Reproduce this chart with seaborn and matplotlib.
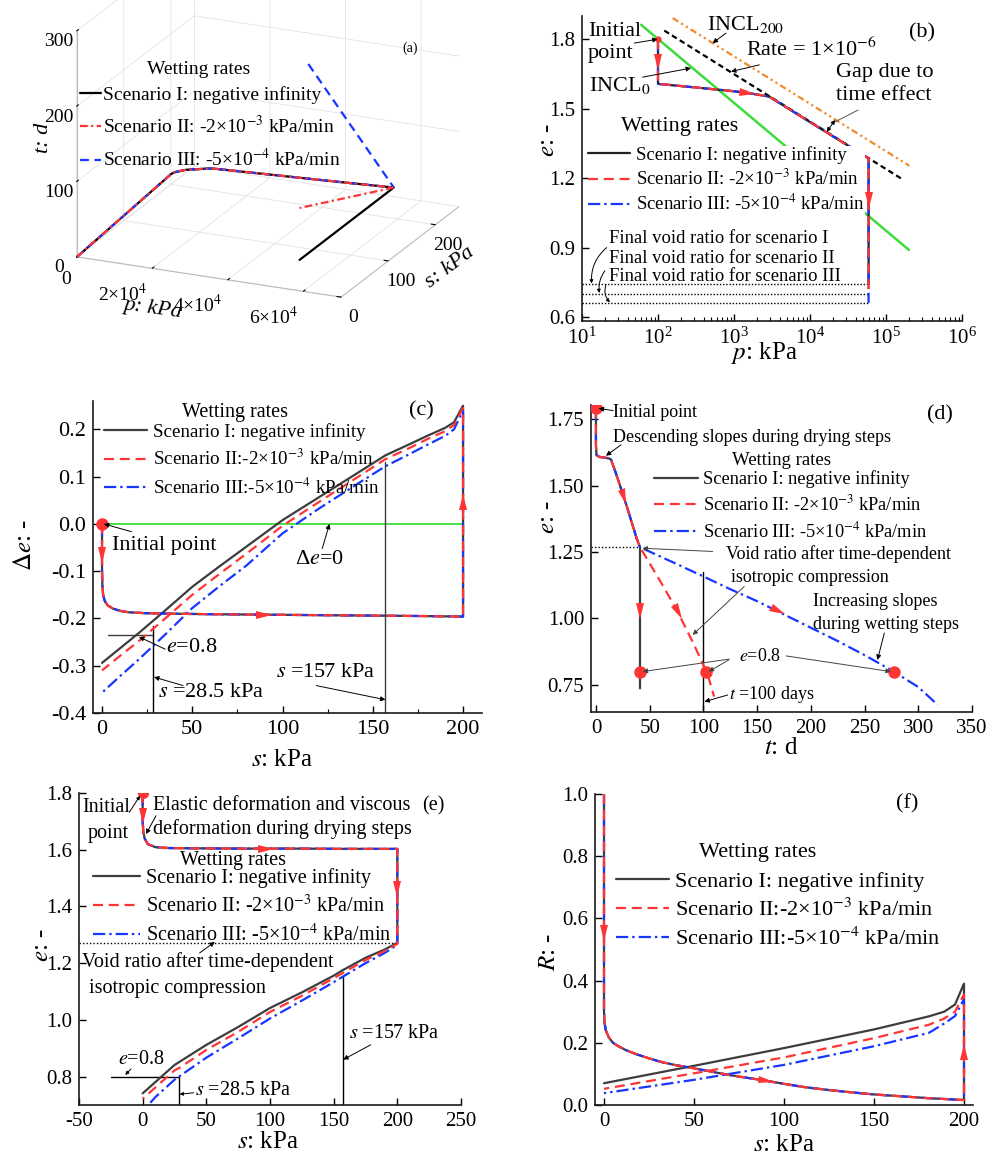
import numpy as np
import matplotlib
matplotlib.use("Agg")
import matplotlib.pyplot as plt
import seaborn as sns
from matplotlib.lines import Line2D
from matplotlib.markers import MarkerStyle
from matplotlib.transforms import Affine2D
from matplotlib.ticker import (LogLocator, LogFormatterMathtext, MultipleLocator,
                               FormatStrFormatter, NullFormatter)

sns.set_style("white")
plt.rcParams["font.family"] = ["Liberation Serif", "DejaVu Serif"]
plt.rcParams["mathtext.fontset"] = "stix"
plt.rcParams["axes.unicode_minus"] = False
for k in ("text.color", "axes.labelcolor", "xtick.color", "ytick.color", "axes.edgecolor"):
    plt.rcParams[k] = "black"

# ---------------------------------------------------------------- data
scen_labels = ["Scenario I: negative infinity",
               "Scenario II: -2×10$^{-3}$ kPa/min",
               "Scenario III: -5×10$^{-4}$ kPa/min"]
scen_labels_tight = ["Scenario I: negative infinity",
                     "Scenario II:-2×10$^{-3}$ kPa/min",
                     "Scenario III:-5×10$^{-4}$ kPa/min"]

# (a) stress path in p-s-t space
a_dry_p = [100, 100]
a_dry_s = [0, 200]
a_dry_t = [0, 14]
a_comp_p = [100, 1000, 4000, 10870, 20000, 30000, 40000, 50000, 59000]
a_comp_s = [200, 200, 200, 200, 200, 200, 200, 200, 200]
a_comp_t = [14, 17, 22.5, 29.6, 31.7, 34.0, 36.3, 38.7, 41]
a_wet_p = [59000, 59000]
a_wet_s_I = [200, 0]
a_wet_t_I = [41, 41]
a_wet_s_II = [200, 0]
a_wet_t_II = [41, 110]
a_wet_s_III = [200, 13]
a_wet_t_III = [41, 300]

# (b) e - log p
b_path_p = [100, 100, 300, 1000, 1500, 2900, 10000, 30000, 59000]
b_path_e = [1.800, 1.607, 1.592, 1.575, 1.568, 1.552, 1.442, 1.345, 1.285]
b_final_e = [0.741, 0.701, 0.661]
b_incl0_p = [60, 2.0e5]
b_incl0_e = [1.862, 0.890]
b_rate_p = [121, 1.57e5]
b_rate_e = [1.837, 1.199]
b_incl200_p = [156, 2.03e5]
b_incl200_e = [1.891, 1.253]

# (c) change of void ratio vs suction
c_dry_s = [0, 0, 0.2, 0.6, 1.5, 3, 6, 10, 15, 25, 40, 60, 90, 120, 150, 180, 200]
c_dry_de = [0, -0.100, -0.130, -0.150, -0.163, -0.172, -0.179, -0.184, -0.187,
            -0.189, -0.190, -0.191, -0.192, -0.193, -0.194, -0.195, -0.196]
c_wet_s = [200, 195, 190, 180, 170, 157, 140, 120, 100, 80, 65, 50, 35, 20, 10, 0]
c_wet_I = [0.250, 0.215, 0.203, 0.186, 0.168, 0.145, 0.104, 0.056, 0.008, -0.048,
           -0.090, -0.133, -0.183, -0.232, -0.263, -0.294]
c_wet_II = [0.245, 0.209, 0.196, 0.179, 0.160, 0.137, 0.095, 0.046, -0.004, -0.063,
            -0.106, -0.150, -0.200, -0.249, -0.279, -0.310]
c_wet_III = [0.240, 0.200, 0.186, 0.167, 0.147, 0.122, 0.081, 0.032, -0.020, -0.088,
             -0.132, -0.178, -0.234, -0.288, -0.322, -0.357]

# (d) void ratio vs time
d_path_t = [0, 0, 0.5, 3, 8, 12, 14, 18, 22, 26, 30, 34, 38, 41]
d_path_e = [1.790, 1.650, 1.615, 1.608, 1.605, 1.602, 1.598, 1.553, 1.505, 1.456,
            1.405, 1.352, 1.300, 1.268]
d_wet_t_I = [41, 41]
d_wet_e_I = [1.268, 0.737]
d_wet_t_II = [41, 50, 60, 70, 80, 90, 100, 105, 110]
d_wet_e_II = [1.268, 1.207, 1.139, 1.069, 0.993, 0.912, 0.825, 0.775, 0.706]
d_wet_t_III = [41, 75, 100, 125, 150, 175, 200, 225, 250, 275, 300, 318]
d_wet_e_III = [1.268, 1.205, 1.158, 1.110, 1.065, 1.015, 0.965, 0.915, 0.862, 0.805,
               0.742, 0.675]

# (e) void ratio vs suction
e_dry_s = [0, 0, 0.5, 1.5, 4, 10, 20, 40, 80, 120, 160, 200]
e_dry_e = [1.800, 1.700, 1.665, 1.640, 1.620, 1.609, 1.606, 1.605, 1.604, 1.604,
           1.603, 1.603]
e_wet_s = [200, 190, 175, 157, 150, 125, 100, 75, 50, 28.5, 25, 10, 0]
e_wet_I = [1.272, 1.248, 1.219, 1.175, 1.156, 1.097, 1.042, 0.975, 0.912, 0.851,
           0.841, 0.781, 0.741]
e_wet_II = [1.268, 1.243, 1.211, 1.165, 1.147, 1.085, 1.028, 0.958, 0.894, 0.830,
            0.822, 0.762, 0.722]
e_wet_III = [1.265, 1.236, 1.200, 1.152, 1.133, 1.068, 1.005, 0.935, 0.867, 0.800,
             0.789, 0.728, 0.678]

# (f) R vs suction
f_dry_s = [0, 0, 0.3, 1, 2.8, 5, 8.3, 12, 17.6, 25, 32, 40, 50, 60, 69, 80, 90, 100,
           112, 125, 137, 150, 165, 180, 190, 200]
f_dry_R = [1.000, 0.300, 0.265, 0.240, 0.216, 0.200, 0.188, 0.177, 0.164, 0.150,
           0.138, 0.128, 0.118, 0.107, 0.097, 0.087, 0.078, 0.068, 0.057, 0.048,
           0.041, 0.034, 0.028, 0.022, 0.019, 0.016]
f_wet_s = [200, 199, 195, 189, 180.5, 150, 100, 50, 0]
f_wet_I = [0.390, 0.377, 0.323, 0.300, 0.285, 0.243, 0.183, 0.126, 0.070]
f_wet_II = [0.355, 0.345, 0.300, 0.278, 0.258, 0.215, 0.153, 0.102, 0.052]
f_wet_III = [0.340, 0.330, 0.286, 0.262, 0.232, 0.189, 0.129, 0.081, 0.038]

# ---------------------------------------------------------------- styles
GRAY = "#3d3d3d"
RED = "#ff3535"
BLUE = "#1736ff"
GREEN = "#3ddc3d"
ORANGE = "#f08a2c"
LW = 1.6
LS_I = "-"
LS_II = (0, (4.5, 2.6))
LS_III = (0, (5.5, 1.8, 1.1, 1.8))

W, H = 992, 1155
fig = plt.figure(figsize=(W / 100, H / 100), dpi=100)


def rect(l, t, r, b):
    return [l / W, 1 - b / H, (r - l) / W, (b - t) / H]


def fpt(x, y):
    return (x / W, 1 - y / H)


def draw(ax, x, y, color, ls, lw=LW, z=3):
    sns.lineplot(x=np.asarray(x, float), y=np.asarray(y, float), ax=ax, sort=False,
                 estimator=None, color=color, linestyle=ls, linewidth=lw, zorder=z)


def three(ax, xs, ys, gray=GRAY):
    # scenario I underneath, III then II on top
    draw(ax, xs[0], ys[0], gray, LS_I, z=3)
    draw(ax, xs[2], ys[2], BLUE, LS_III, z=4)
    draw(ax, xs[1], ys[1], RED, LS_II, z=5)


def flow(ax, xs, ys, i, frac=0.0, logx=False, size=9):
    xs = np.asarray(xs, float)
    ys = np.asarray(ys, float)
    if logx:
        lx = np.log10(xs)
        x = 10 ** (lx[i] + frac * (lx[i + 1] - lx[i]))
    else:
        x = xs[i] + frac * (xs[i + 1] - xs[i])
    y = ys[i] + frac * (ys[i + 1] - ys[i])
    p0 = ax.transData.transform((xs[i], ys[i]))
    p1 = ax.transData.transform((xs[i + 1], ys[i + 1]))
    ang = np.degrees(np.arctan2(p1[1] - p0[1], p1[0] - p0[0]))
    m = MarkerStyle(">", transform=Affine2D().scale(1.25, 0.62).rotate_deg(ang))
    ax.plot([x], [y], marker=m, color=RED, ms=size, ls="none", zorder=8,
            markeredgewidth=0)


def pointer(ax, start, end, style="-|>", lw=0.7, ms=7, rad=0.0, color="black"):
    ax.annotate("", xy=end, xytext=start,
                arrowprops=dict(arrowstyle=style, color=color, lw=lw, mutation_scale=ms,
                                shrinkA=0, shrinkB=0,
                                connectionstyle=f"arc3,rad={rad}"), zorder=9)


def legend(ax, labels, x_px, row1_px, fs, spacing, hl_px, pad_px, styles, opaque=False):
    F = fs * 100 / 72
    handles = [Line2D([], [], color=c, ls=ls, lw=LW) for c, ls in styles]
    leg = ax.legend(handles, labels, loc="upper left",
                    bbox_to_anchor=fpt(x_px, row1_px - 0.48 * F),
                    bbox_transform=fig.transFigure, fontsize=fs,
                    handlelength=hl_px / F, handletextpad=pad_px / F,
                    labelspacing=(spacing - 0.96 * F) / F, borderpad=0,
                    borderaxespad=0, frameon=opaque, fancybox=False)
    if opaque:
        leg.get_frame().set_facecolor("white")
        leg.get_frame().set_edgecolor("none")
        leg.get_frame().set_alpha(1)
    return leg


def style_axes(ax, xl, yl, xlab, ylab, fs_tick=15, fs_lab=18):
    for sp in ("top", "right"):
        ax.spines[sp].set_visible(False)
    for sp in ("left", "bottom"):
        ax.spines[sp].set_color("#1a1a1a")
        ax.spines[sp].set_linewidth(1.2)
    ax.tick_params(which="major", direction="in", length=5, width=1.0,
                   labelsize=fs_tick, bottom=True, left=True, top=False, right=False,
                   pad=5)
    ax.tick_params(which="minor", direction="in", length=3, width=0.8, bottom=True,
                   left=False, top=False, right=False)
    ax.set_xlabel(xl, fontsize=fs_lab)
    ax.set_ylabel(yl, fontsize=fs_lab)
    ax.xaxis.set_label_coords(*xlab)
    ax.yaxis.set_label_coords(*ylab)
    ax.xaxis.label.set_va("center")
    ax.yaxis.label.set_va("center")
    ax.set_facecolor("none")
    ax.grid(False)


SC_STYLES = [(GRAY, LS_I), (RED, LS_II), (BLUE, LS_III)]

# ================================================================ (a)
axa = fig.add_axes([0.0313, 0.6922, 0.4647, 0.3991], projection="3d")
axa.patch.set_visible(False)
axa.set_proj_type("ortho")
axa.view_init(elev=20, azim=-66)
axa.set_box_aspect((1, 1, 0.83))
axa.set_xlim(0, 7e4)
axa.set_ylim(0, 250)
axa.set_zlim(0, 300)
common_p = a_dry_p + a_comp_p[1:]
common_s = a_dry_s + a_comp_s[1:]
common_t = a_dry_t + a_comp_t[1:]
A_RED_LS = (0, (3.5, 1.5, 1, 1.5))
A_BLUE_LS = (0, (4, 2.5))
a_series = [
    (common_p + a_wet_p, common_s + a_wet_s_I, common_t + a_wet_t_I, "black", "-"),
    (common_p + a_wet_p, common_s + a_wet_s_III, common_t + a_wet_t_III, BLUE, A_BLUE_LS),
    (common_p + a_wet_p, common_s + a_wet_s_II, common_t + a_wet_t_II, RED, A_RED_LS),
]
for p, s, t, c, ls in a_series:
    axa.plot(p, s, t, color=c, linestyle=ls, lw=1.6)
axa.set_xticks([0, 2e4, 4e4, 6e4], ["0", "2×10$^4$", "4×10$^4$", "6×10$^4$"])
axa.set_yticks([0, 100, 200], ["0", "100", "200"])
axa.set_zticks([0, 100, 200, 300], ["0", "100", "200", "300"])
axa.tick_params(labelsize=14, pad=0)
plt.setp(axa.get_xticklabels(), ha="right")
axa.zaxis.set_ticks_position("lower")
axa.zaxis.set_label_position("lower")
for axis in (axa.xaxis, axa.yaxis, axa.zaxis):
    axis.set_pane_color((1, 1, 1, 0))
    axis.pane.set_edgecolor("#cccccc")
    axis.line.set_color("#bbbbbb")
    axis._axinfo["grid"]["color"] = "#e3e3e3"
    axis._axinfo["grid"]["linewidth"] = 0.6
    axis._axinfo["tick"]["inward_factor"] = 0.0
    axis._axinfo["tick"]["outward_factor"] = 0.2
fig.text(*fpt(153, 309), "p: kPa", fontsize=16, fontstyle="italic", ha="center",
         va="center", rotation=-8)
fig.text(*fpt(450, 267), "s: kPa", fontsize=16, fontstyle="italic", ha="center",
         va="center", rotation=37)
fig.text(*fpt(43, 138), "t: d", fontsize=16, fontstyle="italic", ha="center",
         va="center", rotation=90)
fig.text(*fpt(410, 48), "(a)", fontsize=10, ha="center", va="center")
fig.text(*fpt(199, 70), "Wetting rates", fontsize=14, ha="center", va="center")
legend(axa, scen_labels, 80, 95, 14, 30, 21, 2,
       [("black", "-"), (RED, A_RED_LS), (BLUE, A_BLUE_LS)])

# ================================================================ (b)
axb = fig.add_axes(rect(582, 16, 962, 321))
axb.set_xscale("log")
axb.set_xlim(10, 1e6)
axb.set_ylim(0.583, 1.90)
draw(axb, b_incl0_p, b_incl0_e, GREEN, "-", lw=1.8, z=1)
draw(axb, b_rate_p, b_rate_e, "black", (0, (2.5, 1.6)), lw=1.6, z=2)
draw(axb, b_incl200_p, b_incl200_e, ORANGE, (0, (3, 1.5, 1, 1.5, 1, 1.5)), lw=1.6, z=2)
b_x = [b_path_p + [b_path_p[-1]] for _ in range(3)]
b_y = [b_path_e + [fe] for fe in b_final_e]
for fe in b_final_e:
    draw(axb, [10, b_path_p[-1]], [fe, fe], "black", (0, (1, 1.3)), lw=1.0, z=2)
three(axb, b_x, b_y, gray="#222222")
axb.plot([b_path_p[0]], [b_path_e[0]], "o", color=RED, ms=3.5, zorder=9)
flow(axb, b_path_p, b_path_e, 0, 0.5, logx=True)
flow(axb, b_path_p, b_path_e, 4, 0.0, logx=True)
flow(axb, b_x[0], b_y[0], len(b_path_p) - 1, 0.33, logx=True)
style_axes(axb, "$p$: kPa", "$e$: -", (0.48, -0.105), (-0.089, 0.593))
axb.set_yticks([0.6, 0.9, 1.2, 1.5, 1.8])
axb.yaxis.set_major_formatter(FormatStrFormatter("%.1f"))
axb.xaxis.set_major_locator(LogLocator(base=10, numticks=10))
axb.xaxis.set_major_formatter(LogFormatterMathtext())
axb.xaxis.set_minor_locator(LogLocator(base=10, subs=np.arange(2, 10), numticks=50))
axb.xaxis.set_minor_formatter(NullFormatter())
axb.tick_params(which="minor", bottom=True)
axb.text(11.9, 1.787, "Initial\npoint", fontsize=16, ha="left", va="center",
         linespacing=1.2)
pointer(axb, (48.9, 1.783), (99, 1.8))
axb.text(12.5, 1.60, "INCL$_0$", fontsize=16, ha="left", va="center")
pointer(axb, (62.8, 1.636), (272, 1.675))
axb.text(448, 1.862, "INCL$_{200}$", fontsize=16, ha="left", va="center")
pointer(axb, (785, 1.826), (523, 1.783))
axb.text(1440, 1.754, "Rate = 1×10$^{-6}$", fontsize=16, ha="left", va="center")
pointer(axb, (2157, 1.689), (913, 1.66))
axb.text(2.2e4, 1.606, "Gap due to\ntime effect", fontsize=16, ha="left", va="center",
         linespacing=1.25)
pointer(axb, (4.3e4, 1.494), (2.05e4, 1.44), style="-", color="#555555")
pointer(axb, (2.14e4, 1.451), (1.66e4, 1.40), style="<|-|>", ms=6)
axb.text(3e5, 1.826, "(b)", fontsize=16, ha="center", va="center")
for txt, ee in zip(["Final void ratio for scenario I", "Final void ratio for scenario II",
                    "Final void ratio for scenario III"], [0.939, 0.852, 0.777]):
    axb.text(23, ee, txt, fontsize=13.4, ha="left", va="center")
pointer(axb, (21.1, 0.90), (13.4, 0.745), rad=0.25, ms=5)
pointer(axb, (20, 0.80), (16.9, 0.704), rad=0.2, ms=5)
pointer(axb, (20.7, 0.74), (23.3, 0.664), rad=0.3, ms=5)
fig.text(*fpt(680, 127), "Wetting rates", fontsize=16, ha="center", va="center")
legend(axb, scen_labels, 588, 155, 13.5, 23, 42, 6,
       [("#222222", LS_I), (RED, LS_II), (BLUE, LS_III)], opaque=True)

# ================================================================ (c)
axc = fig.add_axes(rect(93, 401, 482, 713))
axc.set_xlim(-5, 210.5)
axc.set_ylim(-0.4, 0.26)
draw(axc, [0, 200], [0, 0], GREEN, "-", lw=1.3, z=1)
c_x = [c_dry_s + c_wet_s] * 3
c_y = [c_dry_de + w for w in (c_wet_I, c_wet_II, c_wet_III)]
three(axc, c_x, c_y)
axc.plot([c_dry_s[0]], [c_dry_de[0]], "o", color=RED, ms=8, zorder=9)
flow(axc, c_dry_s, c_dry_de, 0, 0.65)
flow(axc, c_dry_s, c_dry_de, 12, 0.0)
flow(axc, c_x[0], c_y[0], len(c_dry_s) - 1, 0.545)
draw(axc, [3.3, 28.5], [-0.2345, -0.2345], GRAY, "-", lw=1.0, z=2)
draw(axc, [28.5, 28.5], [-0.4, -0.217], "black", "-", lw=1.0, z=2)
draw(axc, [157, 157], [-0.4, 0.131], GRAY, "-", lw=1.0, z=2)
style_axes(axc, "$s$: kPa", r"$\mathit{\Delta e}$: -", (0.486, -0.151), (-0.175, 0.538),
           fs_tick=16)
axc.set_xticks([0, 50, 100, 150, 200])
axc.xaxis.set_minor_locator(MultipleLocator(25))
axc.set_yticks([-0.4, -0.3, -0.2, -0.1, 0.0, 0.1, 0.2])
axc.yaxis.set_major_formatter(FormatStrFormatter("%.1f"))
axc.text(5.5, -0.046, "Initial point", fontsize=16, ha="left", va="center")
pointer(axc, (16.3, -0.0165), (1.0, 0.0))
axc.text(120.6, -0.076, "Δ$e$=0", fontsize=16, ha="center", va="center")
pointer(axc, (122, -0.052), (126, 0.0))
axc.text(35.6, -0.262, "$e$=0.8", fontsize=16, ha="left", va="center")
pointer(axc, (35, -0.265), (20.5, -0.239))
axc.text(31, -0.357, "$s$ =28.5 kPa", fontsize=16, ha="left", va="center")
pointer(axc, (44.9, -0.342), (28.8, -0.324))
axc.text(96.5, -0.314, "$s$ =157 kPa", fontsize=16, ha="left", va="center")
pointer(axc, (118.7, -0.342), (157, -0.372))
axc.text(177, 0.239, "(c)", fontsize=16, ha="center", va="center")
fig.text(*fpt(235, 412), "Wetting rates", fontsize=14.5, ha="center", va="center")
legend(axc, scen_labels_tight, 104, 432, 13.7, 26.5, 43, 6, SC_STYLES)

# ================================================================ (d)
axd = fig.add_axes(rect(591, 405, 972, 712))
axd.set_xlim(-4.6, 350)
axd.set_ylim(0.648, 1.803)
d_x = [d_path_t + w[1:] for w in (d_wet_t_I, d_wet_t_II, d_wet_t_III)]
d_y = [d_path_e + w[1:] for w in (d_wet_e_I, d_wet_e_II, d_wet_e_III)]
three(axd, d_x, d_y)
draw(axd, [-4.6, d_path_t[-1]], [d_path_e[-1], d_path_e[-1]], "black", (0, (1, 1.5)),
     lw=1.0, z=2)
draw(axd, [100, 100], [0.648, 1.175], "black", "-", lw=1.0, z=2)
axd.plot([d_path_t[0]], [d_path_e[0]], "o", color=RED, ms=8, zorder=9)
hit_t = [float(np.interp(0.8, np.asarray(e[::-1]), np.asarray(t[::-1])))
         for t, e in ((d_wet_t_I, d_wet_e_I), (d_wet_t_II, d_wet_e_II),
                      (d_wet_t_III, d_wet_e_III))]
axd.plot(hit_t, [0.8] * 3, "o", color=RED, ms=8, zorder=9)
flow(axd, d_path_t, d_path_e, 9, 0.0)
flow(axd, d_wet_t_I, d_wet_e_I, 0, 0.45)
flow(axd, d_wet_t_II, d_wet_e_II, 3, 0.6)
flow(axd, d_wet_t_III, d_wet_e_III, 4, 0.76)
style_axes(axd, "$t$: d", "$e$: -", (0.499, -0.117), (-0.113, 0.635))
axd.set_xticks(np.arange(0, 351, 50))
axd.set_yticks([0.75, 1.0, 1.25, 1.5, 1.75])
axd.yaxis.set_major_formatter(FormatStrFormatter("%.2f"))
axd.text(16, 1.776, "Initial point", fontsize=13, ha="left", va="center")
pointer(axd, (16, 1.782), (2.5, 1.79))
axd.text(15.5, 1.682, "Descending slopes during drying steps", fontsize=13, ha="left",
         va="center")
pointer(axd, (23.3, 1.653), (9.3, 1.612))
axd.text(121, 1.243, "Void ratio after time-dependent", fontsize=13, ha="left",
         va="center")
axd.text(125.7, 1.155, "isotropic compression", fontsize=13, ha="left", va="center")
pointer(axd, (108.6, 1.252), (43.4, 1.264), color="#444444")
pointer(axd, (138, 1.12), (90, 0.938), color="#444444")
axd.text(201.7, 1.064, "Increasing slopes", fontsize=13, ha="left", va="center")
axd.text(201.7, 0.976, "during wetting steps", fontsize=13, ha="left", va="center")
pointer(axd, (268.4, 0.945), (262, 0.844))
axd.text(133.4, 0.857, "$e$=0.8", fontsize=13, ha="left", va="center")
pointer(axd, (124, 0.847), (hit_t[0] + 2.5, 0.8), color="#444444")
pointer(axd, (124, 0.845), (hit_t[1] + 2.5, 0.8), color="#444444")
pointer(axd, (177, 0.859), (hit_t[2] - 2.5, 0.8), color="#444444")
axd.text(124, 0.712, "$t$ =100 days", fontsize=13, ha="left", va="center")
pointer(axd, (122.6, 0.712), (101, 0.687))
axd.text(320, 1.766, "(d)", fontsize=16, ha="center", va="center")
fig.text(*fpt(782, 460), "Wetting rates", fontsize=13.5, ha="center", va="center")
legend(axd, scen_labels, 654, 479, 13.2, 24.3, 44, 5, SC_STYLES)

# ================================================================ (e)
axe = fig.add_axes(rect(79, 793, 461, 1105))
axe.set_xlim(-50, 250)
axe.set_ylim(0.70, 1.80)
e_x = [e_dry_s + e_wet_s] * 3
e_y = [e_dry_e + w for w in (e_wet_I, e_wet_II, e_wet_III)]
three(axe, e_x, e_y)
axe.plot([e_dry_s[0]], [e_dry_e[0]], "o", color=RED, ms=7, zorder=9)
flow(axe, e_dry_s, e_dry_e, 0, 0.8)
flow(axe, e_dry_s, e_dry_e, 8, 0.42)
flow(axe, e_x[0], e_y[0], len(e_dry_s) - 1, 0.43)
draw(axe, [-50, 200], [e_wet_I[0], e_wet_I[0]], "black", (0, (1, 1.5)), lw=1.0, z=2)
draw(axe, [-25, 28.5], [0.8, 0.8], "black", "-", lw=1.0, z=2)
draw(axe, [28.5, 28.5], [0.70, 0.8], "black", "-", lw=1.0, z=2)
draw(axe, [157, 157], [0.70, 1.154], "black", "-", lw=1.0, z=2)
style_axes(axe, "$s$: kPa", "$e$: -", (0.495, -0.119), (-0.097, 0.513))
axe.set_xticks(np.arange(-50, 251, 50))
axe.set_yticks([0.8, 1.0, 1.2, 1.4, 1.6, 1.8])
axe.yaxis.set_major_formatter(FormatStrFormatter("%.1f"))
axe.text(-47.4, 1.749, "Initial", fontsize=14.5, ha="left", va="center")
axe.text(-43.4, 1.658, "point", fontsize=14.5, ha="left", va="center")
pointer(axe, (-10.5, 1.732), (-2.1, 1.79), ms=5)
axe.text(7.9, 1.755, "Elastic deformation and viscous", fontsize=14.5, ha="left",
         va="center")
axe.text(8.4, 1.673, "deformation during drying steps", fontsize=14.5, ha="left",
         va="center")
pointer(axe, (10.5, 1.72), (2.6, 1.655))
axe.text(228, 1.755, "(e)", fontsize=14.5, ha="center", va="center")
axe.text(-47.4, 1.203, "Void ratio after time-dependent", fontsize=14.5, ha="left",
         va="center")
axe.text(-42, 1.109, "isotropic compression", fontsize=14.5, ha="left", va="center")
pointer(axe, (44.7, 1.236), (56.6, 1.275))
axe.text(-19.7, 0.859, "$e$=0.8", fontsize=14.5, ha="left", va="center")
pointer(axe, (-9.2, 0.827), (-13.7, 0.806), ms=5)
axe.text(40.8, 0.751, "$s$ =28.5 kPa", fontsize=14.5, ha="left", va="center")
pointer(axe, (40, 0.743), (29, 0.738), ms=5)
axe.text(161.8, 0.953, "$s$ =157 kPa", fontsize=14.5, ha="left", va="center")
pointer(axe, (179, 0.912), (157.5, 0.86))
fig.text(*fpt(233, 861), "Wetting rates", fontsize=14.5, ha="center", va="center")
legend(axe, scen_labels, 93, 878, 14.5, 26, 47, 6, SC_STYLES)

# ================================================================ (f)
axf = fig.add_axes(rect(595, 794, 973, 1105))
axf.set_xlim(-5, 205)
axf.set_ylim(0.0, 1.0)
f_x = [f_dry_s + f_wet_s] * 3
f_y = [f_dry_R + w for w in (f_wet_I, f_wet_II, f_wet_III)]
three(axf, f_x, f_y)
flow(axf, f_dry_s, f_dry_R, 0, 0.64)
flow(axf, f_dry_s, f_dry_R, 16, 0.0)
flow(axf, f_x[0], f_y[0], len(f_dry_s) - 1, 0.41)
style_axes(axf, "$s$: kPa", "$R$: -", (0.5, -0.129), (-0.122, 0.492))
axf.set_xticks([0, 50, 100, 150, 200])
axf.set_yticks([0.0, 0.2, 0.4, 0.6, 0.8, 1.0])
axf.yaxis.set_major_formatter(FormatStrFormatter("%.1f"))
axf.text(168.5, 0.97, "(f)", fontsize=16, ha="center", va="center")
fig.text(*fpt(758, 853), "Wetting rates", fontsize=16, ha="center", va="center")
legend(axf, scen_labels_tight, 616, 882, 16, 28, 53, 6, SC_STYLES)

fig.savefig("out.png", dpi=100, facecolor="white")
